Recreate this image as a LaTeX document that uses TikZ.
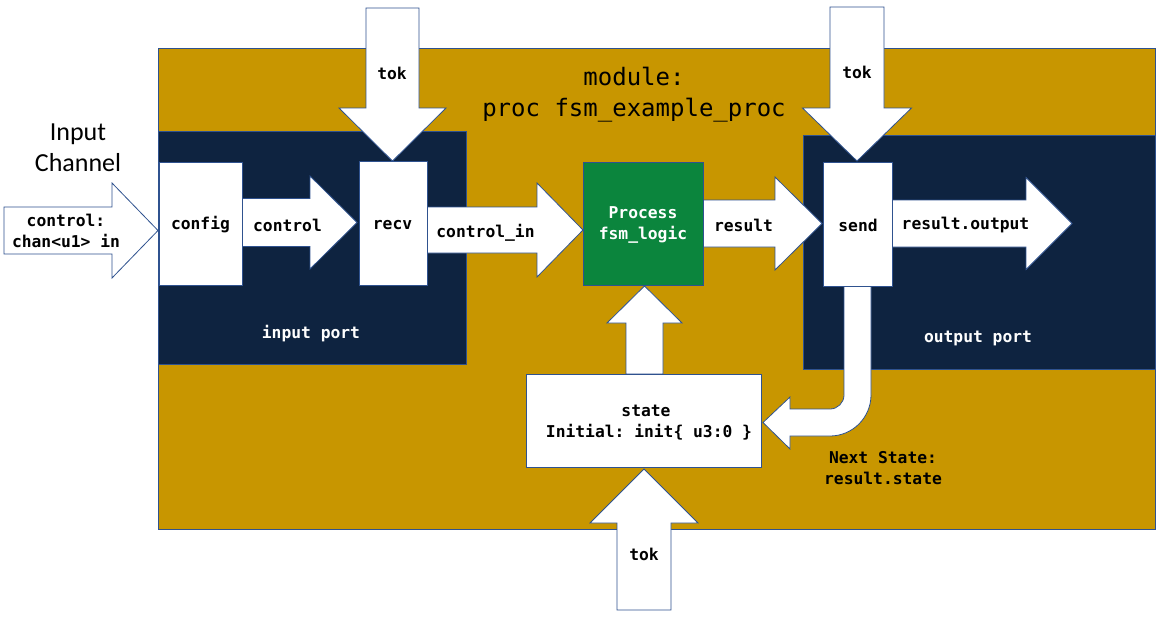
\documentclass[tikz,border=0pt]{standalone}
\usepackage{fontspec}
\setmainfont{Carlito}
\setmonofont{DejaVu Sans Mono}
\definecolor{gold}{RGB}{200,150,0}
\definecolor{navy}{RGB}{14,35,64}
\definecolor{procgreen}{RGB}{11,133,61}
\definecolor{edge}{RGB}{47,82,143}
\tikzset{
  barrow/.style={draw=edge, line width=0.8pt, fill=white, line join=miter},
  wbox/.style={draw=edge, line width=0.8pt, fill=white, inner sep=0pt},
  area/.style={draw=edge, line width=0.8pt, inner sep=0pt},
  lbl/.style={font=\ttfamily\bfseries\fontsize{16.3}{21}\selectfont, text=black, inner sep=0pt, align=center, yshift=-1.5pt},
  wlbl/.style={lbl, text=white},
}
\newcommand\myRArr[6]{% x1 x2 yc sw hw hl
  \draw[barrow] ({#1},{#3-#4}) -- ({#2-#6},{#3-#4}) -- ({#2-#6},{#3-#5}) -- ({#2},{#3}) -- ({#2-#6},{#3+#5}) -- ({#2-#6},{#3+#4}) -- ({#1},{#3+#4}) -- cycle;}
\newcommand\myVArr[6]{% xc y1 y2(tip) sw hw signed-hl
  \draw[barrow] ({#1-#4},{#2}) -- ({#1-#4},{#3-(#6)}) -- ({#1-#5},{#3-(#6)}) -- ({#1},{#3}) -- ({#1+#5},{#3-(#6)}) -- ({#1+#4},{#3-(#6)}) -- ({#1+#4},{#2}) -- cycle;}
\begin{document}
\begin{tikzpicture}[x=1pt,y=-1pt]
\useasboundingbox[fill=white] (0,0) rectangle (1176,626);
% module and ports
\node[area, fill=gold, minimum width=997, minimum height=481] (module) at (656.5,288.5) {};
\node[area, fill=navy, minimum width=308, minimum height=233] (inport) at (312,247.5) {};
\node[area, fill=navy, minimum width=352, minimum height=234] (outport) at (979,252) {};
\node[font=\ttfamily\fontsize{24}{31}\selectfont, align=center, inner sep=0pt] (title) at (634,95) {module:\\proc fsm\_example\_proc};
\node[wlbl] (inlbl) at (311,332) {input port};
\node[wlbl] (outlbl) at (978,337) {output port};
\node[font=\fontsize{26}{31}\selectfont, align=center, inner sep=0pt] (inch) at (78,148) {Input\\Channel};
% block arrows
\myRArr{4}{158}{230.5}{23.5}{47.5}{46}
\myRArr{242}{357}{222.5}{24}{46.5}{47}
\myRArr{426}{583}{230}{23}{47}{46}
\myRArr{703}{822}{223.5}{23.5}{46.5}{47}
\myRArr{892}{1072}{223.5}{23.5}{46}{46}
\myVArr{392.5}{8}{161}{26.5}{53.5}{53}
\myVArr{857}{7}{161}{27}{54.5}{53}
\myVArr{644.5}{374}{286}{18.5}{37.5}{-37}
\myVArr{644}{610}{469}{27}{54}{-54}
% bent arrow send -> state
\draw[barrow] (844,286) -- (844,395) .. controls (844,402.7) and (837.7,409) .. (830,409)
  -- (790,409) -- (790,397) -- (763,422.5) -- (790,449) -- (790,436) -- (830,436)
  .. controls (852.6,436) and (871,417.6) .. (871,395) -- (871,286) -- cycle;
% boxes
\node[wbox, minimum width=83, minimum height=123] (config) at (200.5,223.5) {};
\node[wbox, minimum width=68, minimum height=124] (recv) at (393,223) {};
\node[wbox, minimum width=69, minimum height=124] (send) at (857.5,224) {};
\node[area, fill=procgreen, minimum width=120, minimum height=123] (proc) at (643,223.5) {};
\node[wbox, minimum width=235, minimum height=93] (state) at (643.5,420.5) {};
% labels
\node[lbl] at (66,229) {control:\\chan<u1> in};
\node[lbl] at (config.center) {config};
\node[lbl] at (287.5,224) {control};
\node[lbl] at (392.5,224) {recv};
\node[lbl] at (485.5,231) {control\_in};
\node[lbl] at (743.5,224) {result};
\node[lbl] at (858,224) {send};
\node[lbl] at (965.5,224) {result.output};
\node[wlbl] at (643,223.5) {Process\\fsm\_logic};
\node[lbl] at (392,72) {tok};
\node[lbl] at (857,71) {tok};
\node[lbl] at (644,553) {tok};
\node[lbl] at (646,421.5) {state\\\hspace*{6pt}Initial: init\{ u3:0 \}};
\node[lbl] at (883,466.5) {Next State:\\result.state};
\end{tikzpicture}
\end{document}
